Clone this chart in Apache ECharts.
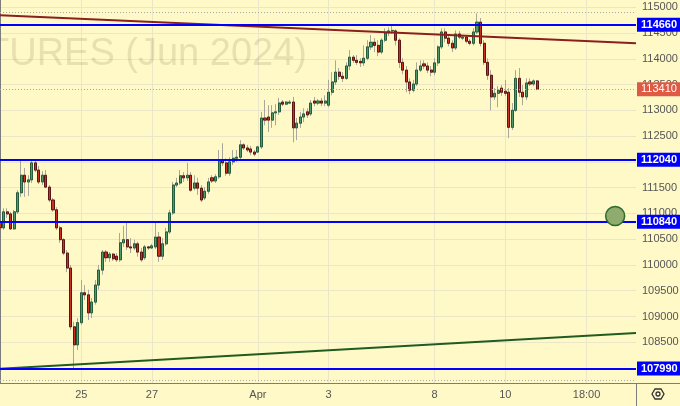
<!DOCTYPE html>
<html><head><meta charset="utf-8">
<script src="https://cdn.jsdelivr.net/npm/echarts@6/dist/echarts.min.js"></script>
<style>html,body{margin:0;padding:0;background:#FFF9C8}#c{width:680px;height:406px}</style>
</head><body><div id="c"></div>
<script>
// ---- data ----
const opens = [110830,110720,111030,110990,110700,111030,111400,111740,111610,111650,
111980,111840,111610,111740,111510,111260,111070,110720,110490,110230,
109940,108800,108450,108880,109460,109420,109070,109280,109610,109900,
110250,110140,110210,110170,110100,110430,110490,110350,110330,110410,
110250,110140,110350,110330,110350,110540,110170,110410,110640,111010,
111550,111590,111730,111690,111740,111490,111590,111490,111300,111430,
111690,111630,111710,112040,111980,111780,112000,112070,112090,112330,
112270,112250,112190,112190,112290,112850,112870,112810,112950,112970,
113160,113120,113140,113160,112660,112750,112870,112970,112930,113180,
113140,113180,113140,113100,113350,113550,113740,113660,113620,113860,
114030,113970,113950,113920,114010,114230,114320,114260,114130,114360,
114500,114540,114540,114360,113930,113780,113550,113390,113510,113780,
113900,113860,113780,113740,113920,114230,114520,114400,114300,114210,
114480,114400,114420,114340,114300,114520,114710,114300,113930,113680,
113260,113330,113430,113370,113350,112670,113000,113620,113350,113260,
113550,113510,113570];
const closes = [110720,111030,110990,110700,111030,111400,111740,111610,111650,111980,
111840,111610,111740,111510,111260,111070,110720,110490,110230,109940,
108800,108450,108880,109460,109420,109070,109280,109610,109900,110250,
110140,110210,110120,110100,110430,110490,110350,110330,110410,110250,
110100,110350,110330,110370,110540,110170,110410,110640,111010,111550,
111590,111730,111690,111740,111450,111590,111490,111260,111430,111610,
111630,111710,112040,111980,111780,112000,112070,112090,112330,112270,
112230,112190,112150,112290,112850,112810,112810,112950,112970,113140,
113120,113160,113160,112660,112750,112870,112930,112910,113140,113140,
113180,113140,113180,113350,113550,113740,113660,113620,113860,114030,
113970,113930,113920,114010,114230,114320,114260,114130,114360,114500,
114540,114550,114360,113930,113780,113550,113390,113510,113780,113860,
113860,113780,113740,113920,114230,114520,114400,114300,114210,114480,
114420,114420,114340,114300,114520,114710,114300,113930,113680,113260,
113330,113390,113350,113330,112670,113000,113620,113350,113260,113530,
113510,113570,113410];
const lows = [110640,110680,110910,110680,110680,110990,111320,111320,111340,111590,
111800,111570,111550,111490,111220,111030,110680,110430,110190,109860,
108740,108000,108350,108840,109320,108930,108970,109230,109520,109810,
110060,110060,110080,110060,110060,110350,110290,110230,110290,110160,
110060,110100,110290,110310,110310,110060,110100,110370,110600,110970,
111510,111550,111610,111630,111420,111450,111360,111220,111260,111380,
111590,111590,111670,111920,111730,111730,111940,112000,112040,112230,
112190,112130,112110,112170,112250,112710,112580,112660,112710,112910,
113080,113100,113120,112380,112420,112660,112770,112850,112890,113080,
113100,113080,113080,113060,113290,113490,113590,113550,113590,113780,
113920,113880,113840,113860,113970,114170,114130,114050,114090,114320,
114440,114480,114260,113820,113700,113350,113310,113350,113470,113740,
113800,113720,113660,113680,113860,114190,114320,114240,114130,114170,
114380,114360,114300,114260,114260,114480,114240,113880,113590,113000,
113200,113060,113280,113280,112460,112620,112970,113260,113100,113200,
113470,113470,113390];
const highs = [110970,111100,111100,111030,111070,111450,112040,111880,111740,112040,
112040,111920,111820,111840,111550,111300,111120,110760,110520,110290,
110000,108900,108970,109710,109610,109520,109360,109710,110000,110290,
110290,110250,110230,110230,110620,110760,110830,110520,110490,110450,
110330,110390,110370,110410,110830,110640,110520,110720,111070,111610,
111690,111840,111800,111980,111800,111740,111690,111550,111510,111690,
111740,111760,112230,112360,112070,112090,112230,112230,112420,112360,
112330,112310,112230,112310,112970,113200,113100,113100,113120,113240,
113200,113180,113200,113260,112850,112970,113040,113040,113200,113260,
113220,113240,113290,113590,113740,113970,113820,113740,113930,114170,
114070,114070,114010,114260,114360,114460,114400,114360,114400,114590,
114610,114670,114570,114400,114010,113860,113620,113590,113930,113970,
113970,113930,113860,114010,114260,114590,114590,114480,114360,114550,
114540,114460,114460,114380,114590,114880,114790,114360,114010,113780,
113430,113470,113490,113590,113430,113140,113780,113820,113490,113620,
113620,113600,113590];
const xTickLabels = ['25','27','Apr','3','8','10','18:00'];
const xTickSlots = [23,43,73,93,123,143,166];
const slotCount = 181;
const yTicks = [108000,108500,109000,109500,110000,110500,111000,111500,112000,112500,113000,113500,114000,114500,115000];
const levelLines = [114660,112040,110840,107990];
const lastPrice = 113410;
const rangeDots = [114900,107770];
const redTrend = [[0,114845],[180,114300]];
const greenTrend = [[0,107985],[180,108680]];
const markerPoint = [[174.1,110950]];

// ---- build ----
const cats = [];
for (let i = 0; i < slotCount; i++) cats.push('');
xTickSlots.forEach((s, k) => { cats[s] = xTickLabels[k]; });
const fullData = closes.map((c, i) => [opens[i], c, lows[i], highs[i]]);
const bodyData = closes.map((c, i) => [opens[i], c, Math.min(opens[i], c), Math.max(opens[i], c)]);
const FONT = 'Liberation Sans, Arial, sans-serif';
const showSlot = (i, v) => v !== '';
const boxLabel = (bg, bold) => ({show: true, position: 'end', distance: 1, formatter: p => String(p.value),
  backgroundColor: bg, color: '#fff', fontSize: 11, fontWeight: bold ? 'bold' : 'normal', fontFamily: FONT,
  padding: [2, 4, 1, 4]});

const chart = echarts.init(document.getElementById('c'), null, {renderer: 'canvas'});
chart.setOption({
  animation: false,
  backgroundColor: '#FFF9C8',
  textStyle: {fontFamily: FONT},
  grid: {left: 0, right: 44, top: 0, bottom: 23, containLabel: false, outerBoundsMode: 'none'},
  xAxis: [{
    type: 'category', data: cats, boundaryGap: false,
    axisLine: {show: true, lineStyle: {color: '#7d7d7d', width: 1}},
    axisTick: {show: false},
    axisLabel: {interval: showSlot, color: '#555', fontSize: 11, margin: 6, fontFamily: FONT},
    splitLine: {show: true, interval: showSlot, lineStyle: {color: '#ebe6c8', width: 1}}
  }, {
    type: 'value', min: 0, max: 180, show: false
  }],
  yAxis: {
    type: 'value', position: 'right', min: 107710, max: 115140,
    axisLine: {show: true, lineStyle: {color: '#7d7d7d', width: 1}},
    axisTick: {show: false, customValues: yTicks},
    axisLabel: {customValues: yTicks, formatter: v => String(v), color: '#555', fontSize: 11, margin: 6, fontFamily: FONT},
    splitLine: {show: true, lineStyle: {color: '#ebe6c8', width: 1}}
  },
  graphic: [
    {type: 'text', z: 1, x: 307, y: 55,
     style: {text: 'FUTURES (Jun 2024)', font: '300 38px ' + FONT, fill: 'rgba(110,100,60,0.17)', textAlign: 'right', textVerticalAlign: 'middle'}},
    {type: 'line', z: 10, shape: {x1: 636, y1: 383.5, x2: 680, y2: 383.5}, style: {stroke: '#7d7d7d', lineWidth: 1}},
    {type: 'line', z: 10, shape: {x1: 636.5, y1: 383, x2: 636.5, y2: 406}, style: {stroke: '#7d7d7d', lineWidth: 1}},
    {type: 'polygon', z: 10, shape: {points: [[652,394],[655,389],[661,389],[664,394],[661,399],[655,399]]}, style: {fill: 'none', stroke: '#333', lineWidth: 1.3}},
    {type: 'circle', z: 10, shape: {cx: 658, cy: 394, r: 2}, style: {fill: 'none', stroke: '#333', lineWidth: 1.3}}
  ],
  series: [
    {
      type: 'candlestick', name: 'wicks', z: 2, barWidth: 2.6, silent: true,
      data: fullData,
      itemStyle: {color: '#a9a79a', color0: '#a9a79a', borderColor: '#a9a79a', borderColor0: '#a9a79a', borderWidth: 1}
    },
    {
      type: 'candlestick', name: 'bodies', z: 3, barWidth: 2.6, silent: true,
      data: bodyData,
      itemStyle: {color: '#4f9a6c', color0: '#c8321f', borderColor: '#245c3c', borderColor0: '#5e1410', borderWidth: 1}
    },
    {
      type: 'line', xAxisIndex: 1, z: 4, symbol: 'none', silent: true,
      data: redTrend, lineStyle: {color: '#8a1f1f', width: 2}
    },
    {
      type: 'line', xAxisIndex: 1, z: 4, symbol: 'none', silent: true,
      data: greenTrend, lineStyle: {color: '#1f5c1f', width: 2}
    },
    {
      type: 'line', xAxisIndex: 1, z: 5, symbol: 'none', silent: true, data: [],
      markLine: {
        silent: true, symbol: 'none', animation: false,
        data: [].concat(
          rangeDots.map(v => ({yAxis: v, lineStyle: {color: '#a8a8a8', width: 1, type: [1, 2]}, label: {show: false}})),
          [{yAxis: lastPrice, lineStyle: {color: '#e8906e', width: 1, type: [1, 2]}, label: boxLabel('#de5a44', false)}],
          levelLines.map(v => ({yAxis: v, lineStyle: {color: '#0000ff', width: 2, type: 'solid'}, label: boxLabel('#0000ff', true)}))
        )
      }
    },
    {
      type: 'scatter', xAxisIndex: 1, z: 6, silent: true, symbolSize: 19,
      data: markerPoint,
      itemStyle: {color: '#8fab6d', borderColor: '#2e6a2e', borderWidth: 1.5, opacity: 1}
    }
  ]
});
</script></body></html>
